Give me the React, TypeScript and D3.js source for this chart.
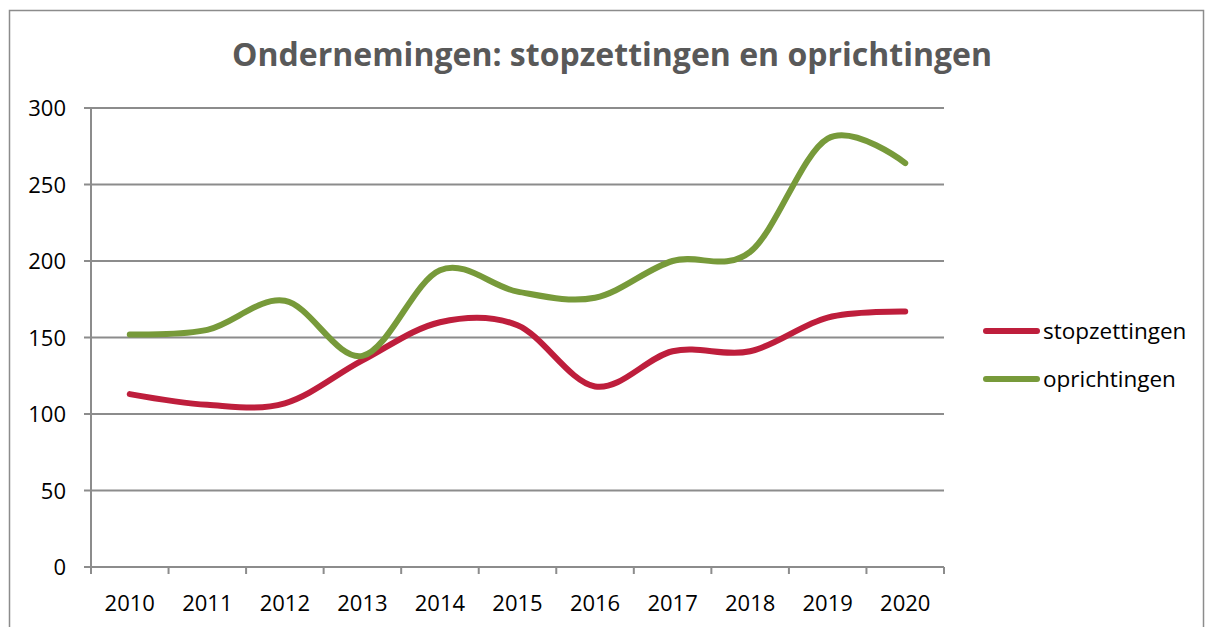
import React from "react";
import * as d3 from "d3";

const years = ["2010","2011","2012","2013","2014","2015","2016","2017","2018","2019","2020"];
const stopzettingen = [113, 106, 107, 135, 160, 158, 118, 141, 141, 163, 167];
const oprichtingen = [152, 155, 174, 138, 194, 180, 176, 200, 206, 280, 264];
const yTicks = [0, 50, 100, 150, 200, 250, 300];
const seriesNames = ["stopzettingen", "oprichtingen"];
const seriesColors = ["#BE1E3C", "#779A3A"];

export default function App() {
  const W = 1208, H = 627;
  const left = 91, right = 944, top = 108, bottom = 567;
  const x = d3.scaleBand<string>().domain(years).range([left, right]).padding(0);
  const y = d3.scaleLinear().domain([0, 300]).range([bottom, top]);
  const cx = (d: string) => (x(d) as number) + x.bandwidth() / 2;
  const line = d3.line<number>()
    .x((_, i) => cx(years[i]))
    .y((v) => y(v))
    .curve(d3.curveCardinal.tension(0));
  const data = [stopzettingen, oprichtingen];
  const font = "'Open Sans', sans-serif";
  const ticksX = years.map((d) => x(d) as number).concat([right]);
  return (
    <svg width={W} height={H} style={{ position: "absolute", left: 0, top: 0 }}>
      <rect x={0} y={0} width={W} height={H} fill="#fff" />
      <rect x={9.5} y={10.5} width={1194} height={640} fill="none" stroke="#8c8c8c" strokeWidth={1.5} />
      <text x={612} y={66} textAnchor="middle" fontFamily={font} fontWeight="bold" fontSize={32} fill="#595959">
        Ondernemingen: stopzettingen en oprichtingen
      </text>
      {yTicks.map((t) => (
        <g key={t}>
          <line x1={84} x2={right} y1={y(t)} y2={y(t)} stroke="#8c8c8c" strokeWidth={2} />
          <text x={66} y={y(t) + 8} textAnchor="end" fontFamily={font} fontSize={22} fill="#000">{t}</text>
        </g>
      ))}
      <line x1={left} x2={left} y1={top} y2={bottom + 7} stroke="#8c8c8c" strokeWidth={2} />
      {ticksX.map((tx, i) => (
        <line key={i} x1={tx} x2={tx} y1={bottom} y2={bottom + 7} stroke="#8c8c8c" strokeWidth={2} />
      ))}
      {years.map((d) => (
        <text key={d} x={cx(d)} y={611} textAnchor="middle" fontFamily={font} fontSize={22} fill="#000">{d}</text>
      ))}
      {data.map((s, i) => (
        <path key={i} d={line(s) || ""} fill="none" stroke={seriesColors[i]} strokeWidth={6} strokeLinecap="round" />
      ))}
      {seriesNames.map((n, i) => (
        <g key={n}>
          <line x1={986} x2={1037} y1={331 + i * 48} y2={331 + i * 48} stroke={seriesColors[i]} strokeWidth={6} strokeLinecap="round" />
          <text x={1043} y={339 + i * 48} fontFamily={font} fontSize={22.5} fill="#000">{n}</text>
        </g>
      ))}
    </svg>
  );
}
